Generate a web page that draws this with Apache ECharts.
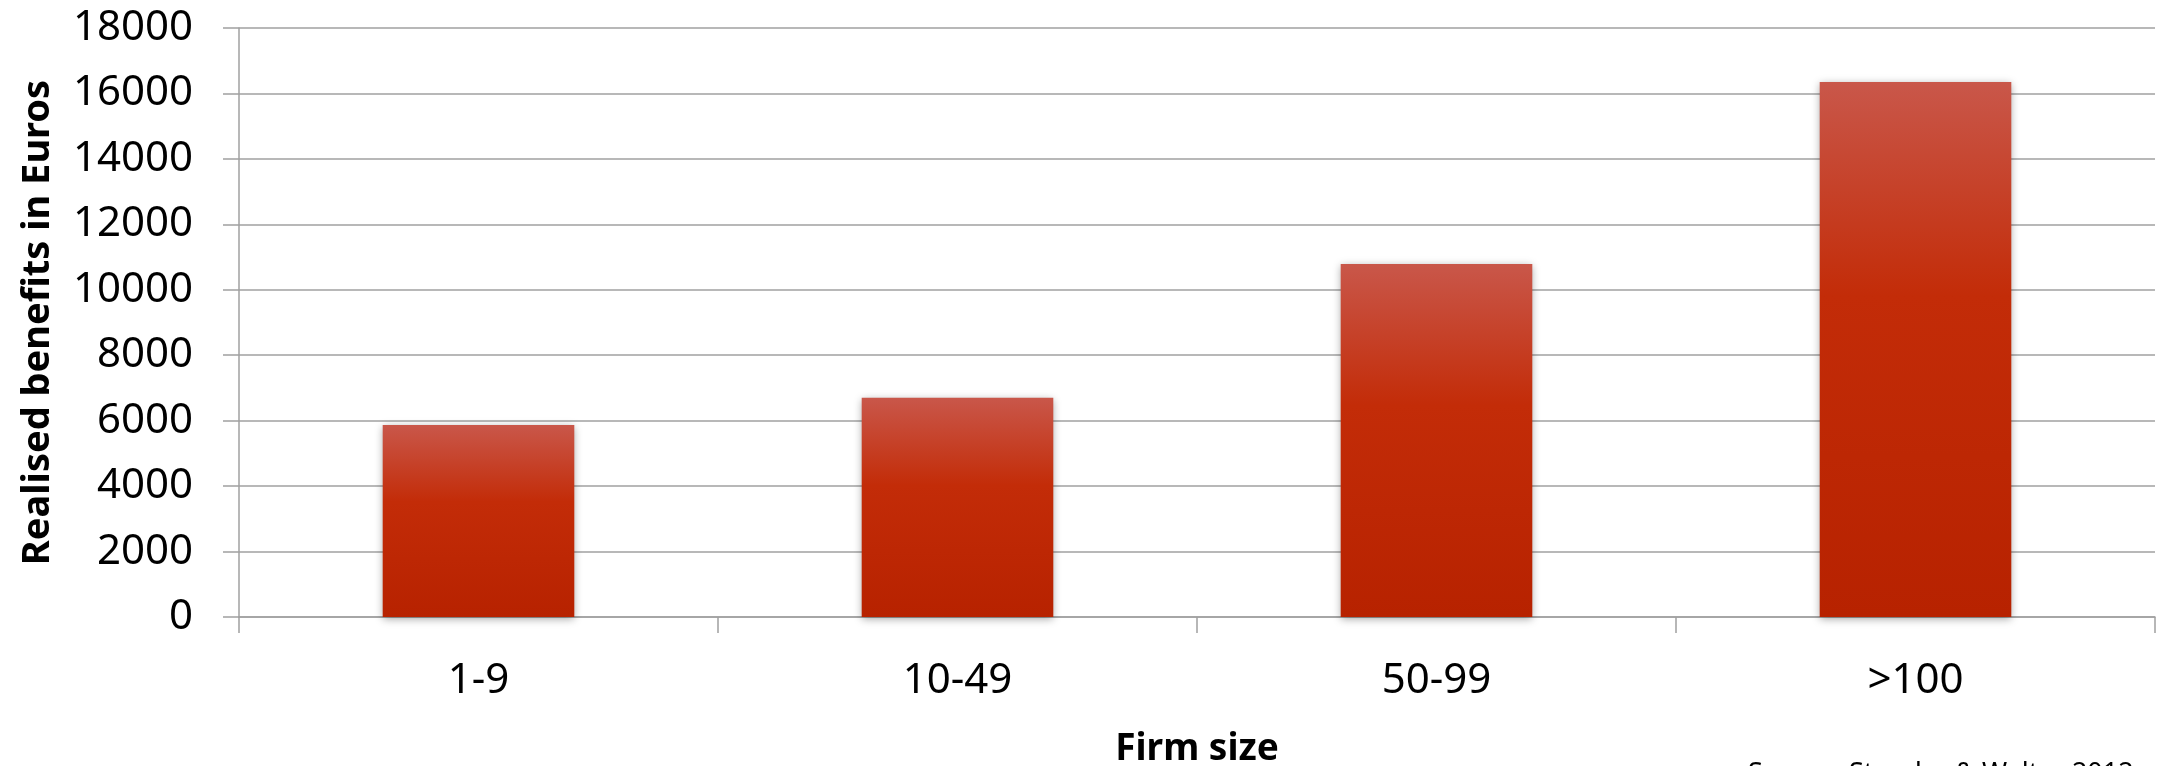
<!DOCTYPE html>
<html>
<head>
<meta charset="utf-8">
<script src="https://cdn.jsdelivr.net/npm/echarts@6/dist/echarts.min.js"></script>
<style>
  html, body { margin: 0; padding: 0; background: #fff; }
  #chart { width: 2158px; height: 766px; }
</style>
</head>
<body>
<div id="chart"></div>
<script>
var categories = ['1-9', '10-49', '50-99', '>100'];
var benefits = [5870, 6700, 10790, 16350];
var yTicks = { min: 0, max: 18000, step: 2000 };

var myChart = echarts.init(document.getElementById('chart'));

var barColor = new echarts.graphic.LinearGradient(0, 0, 0, 1, [
    { offset: 0, color: '#c9574a' },
    { offset: 0.4, color: '#c32c08' },
    { offset: 1, color: '#b72200' }
]);

var option = {
    animation: false,
    textStyle: { fontFamily: 'Noto Sans' },
    grid: {
        left: 239,
        right: 3,
        top: 28,
        bottom: 149,
        outerBoundsMode: 'none'
    },
    xAxis: {
        type: 'category',
        data: categories,
        name: 'Firm size',
        nameLocation: 'middle',
        nameGap: 114,
        nameTextStyle: { fontSize: 37, fontWeight: 'bold', color: '#000' },
        axisLine: { lineStyle: { color: '#a0a0a0', width: 1.5 } },
        axisTick: { show: true, length: 16, lineStyle: { color: '#a0a0a0', width: 1.5 } },
        axisLabel: { fontSize: 42, color: '#000', margin: 43 }
    },
    yAxis: {
        type: 'value',
        min: yTicks.min,
        max: yTicks.max,
        interval: yTicks.step,
        name: 'Realised benefits in Euros',
        nameLocation: 'middle',
        nameGap: 182,
        nameTextStyle: { fontSize: 38, fontWeight: 'bold', color: '#000' },
        axisLine: { show: true, lineStyle: { color: '#a0a0a0', width: 1.5 } },
        axisTick: { show: true, length: 16, lineStyle: { color: '#a0a0a0', width: 1.5 } },
        axisLabel: {
            fontSize: 42,
            color: '#000',
            margin: 46,
            formatter: function (v) { return String(v); }
        },
        splitLine: { lineStyle: { color: '#a0a0a0', width: 1.5 } }
    },
    series: [
        {
            name: 'Realised benefits',
            type: 'bar',
            data: benefits,
            barWidth: '40%',
            itemStyle: {
                color: barColor,
                shadowBlur: 8,
                shadowColor: 'rgba(0,0,0,0.35)',
                shadowOffsetY: 2
            }
        }
    ],
    graphic: [
        {
            type: 'text',
            left: 1748,
            top: 761,
            style: {
                text: 'Source: Stauder & Walter 2012',
                font: '27px "Noto Sans"',
                fill: '#000'
            }
        }
    ]
};

myChart.setOption(option);
</script>
</body>
</html>
